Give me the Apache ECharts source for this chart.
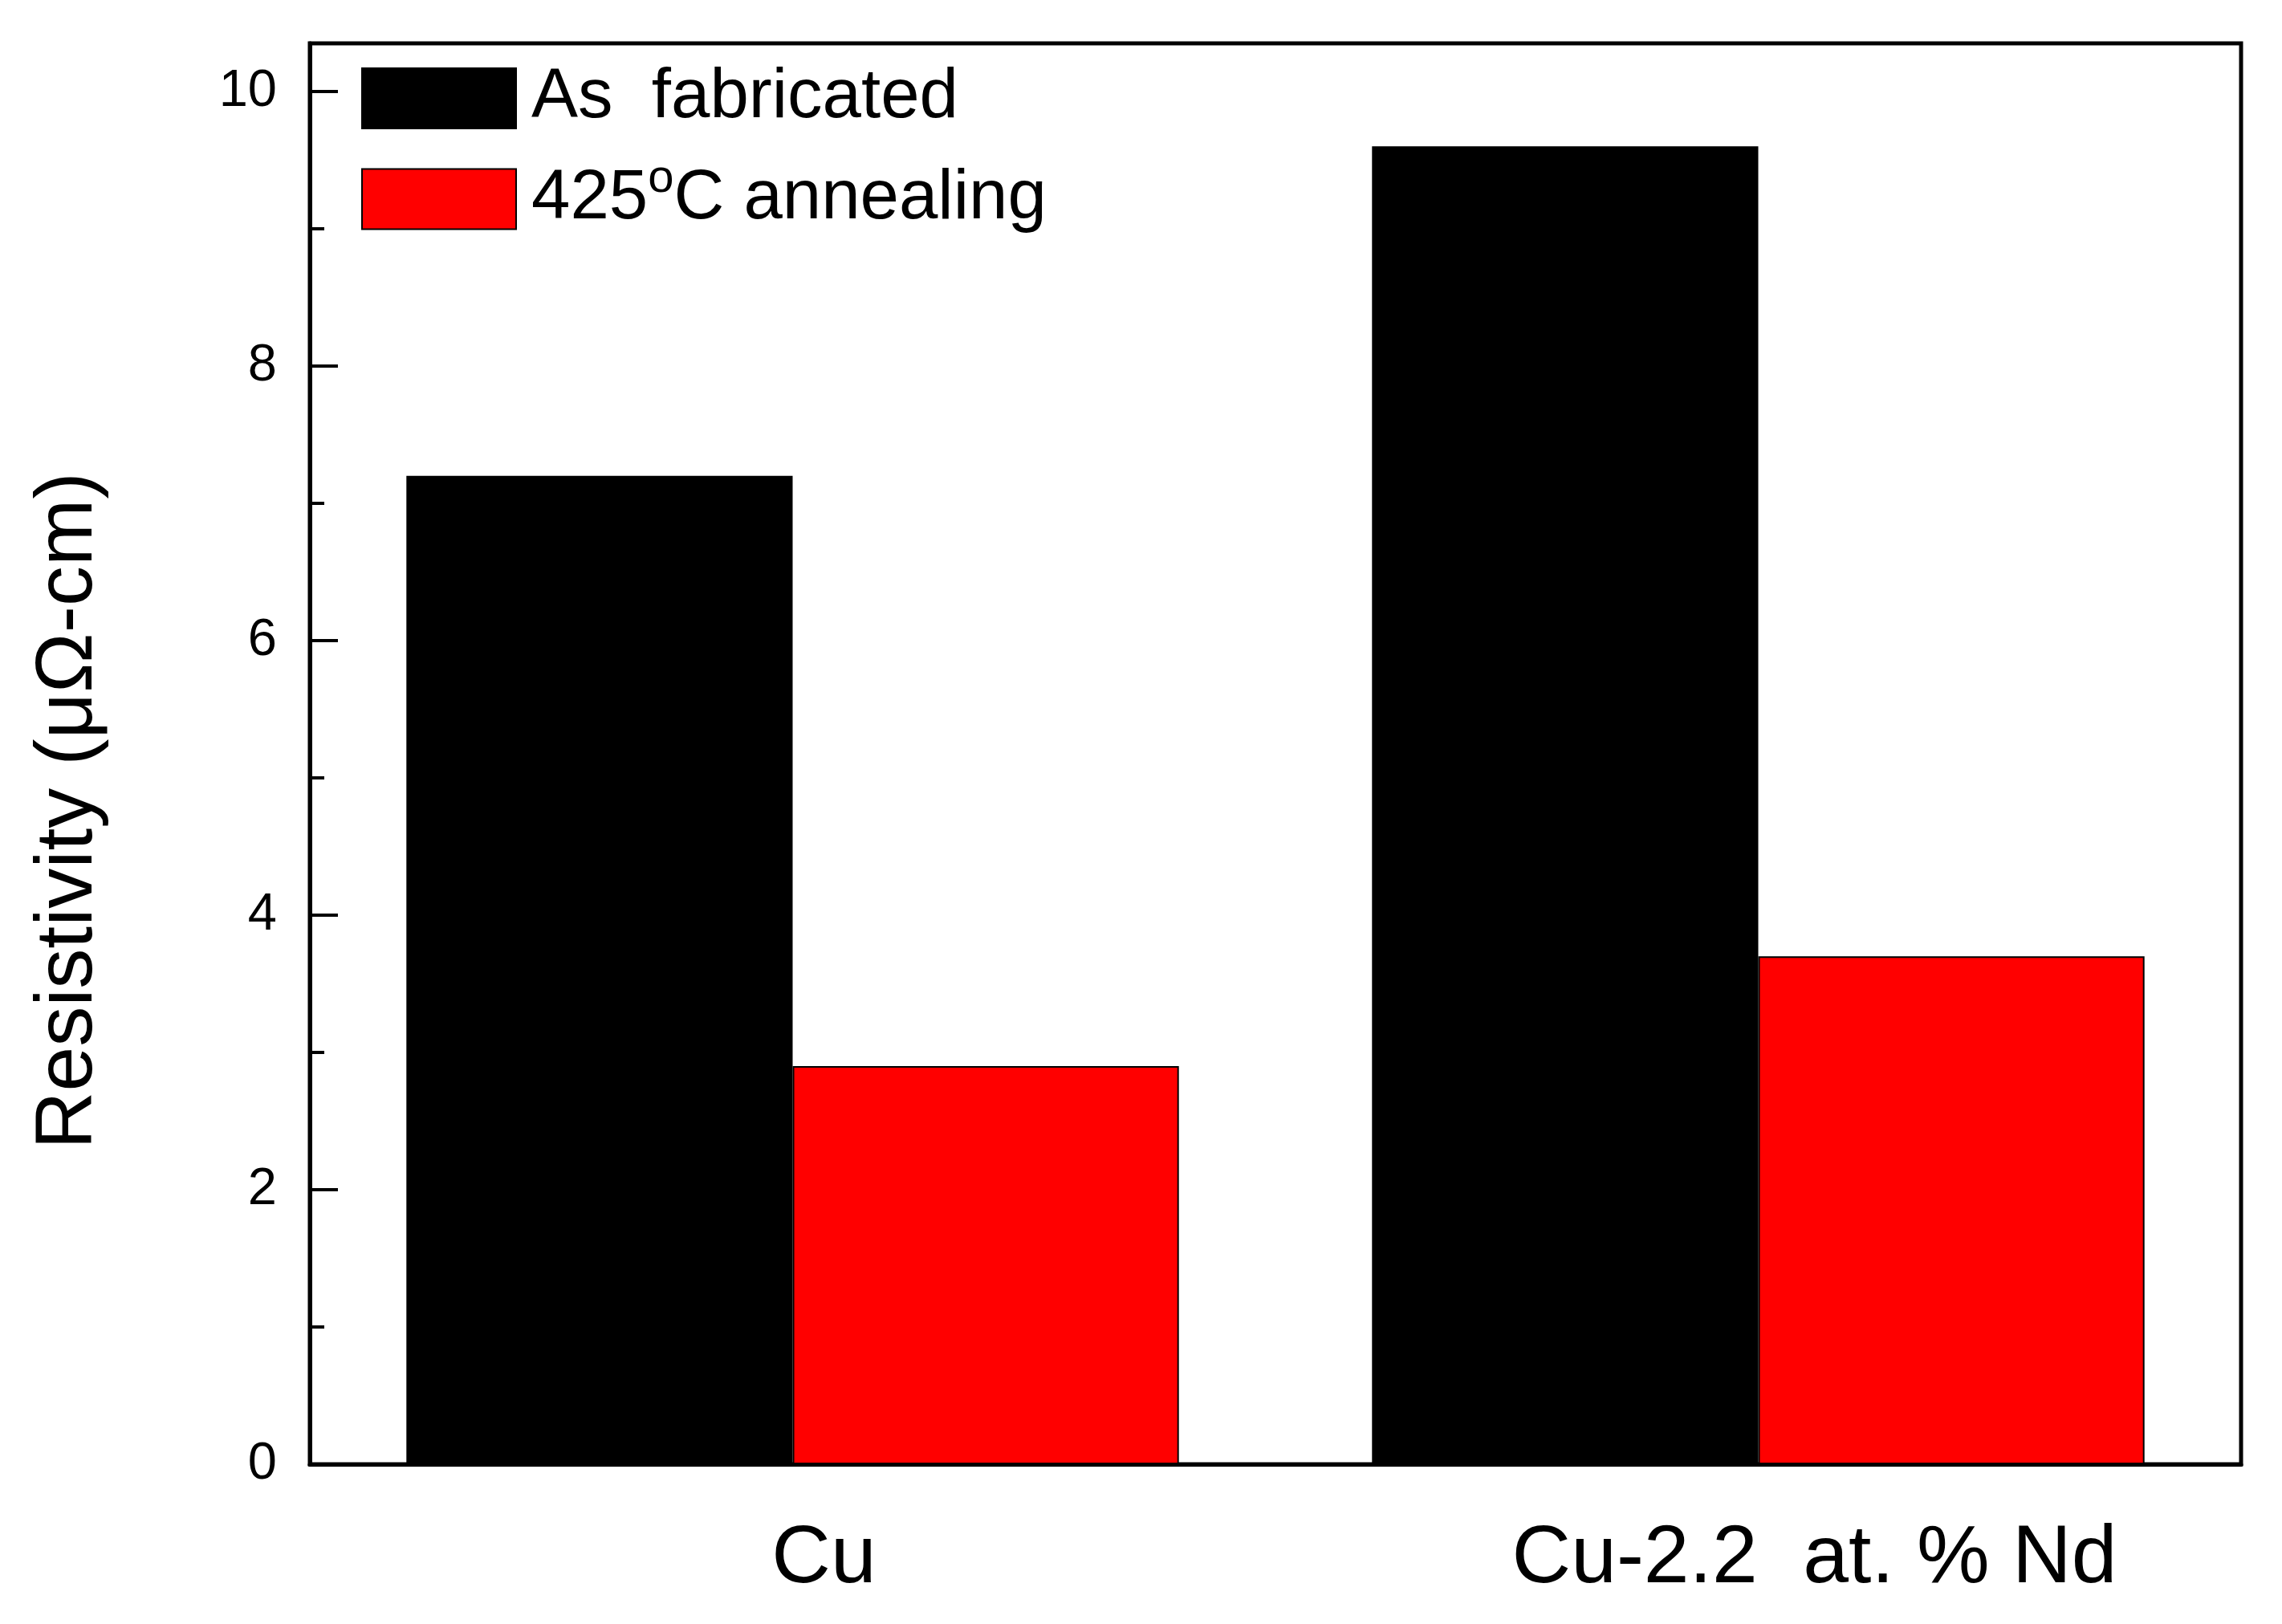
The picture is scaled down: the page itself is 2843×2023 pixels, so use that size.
<!DOCTYPE html>
<html>
<head>
<meta charset="utf-8">
<script src="https://cdn.jsdelivr.net/npm/echarts@6/dist/echarts.min.js"></script>
<style>
  html, body { margin: 0; padding: 0; background: #fff; }
  #chart { width: 2843px; height: 2023px; }
</style>
</head>
<body>
<div id="chart"></div>
<script>
// data
var categories = ['Cu', 'Cu-2.2  at. % Nd'];
var asFabricated = [7.2, 9.6];
var annealed = [2.9, 3.7];
var yTicks = [0, 2, 4, 6, 8, 10];

var font = '"Liberation Sans", Arial, sans-serif';
var myChart = echarts.init(document.getElementById('chart'));

var option = {
	backgroundColor: '#fff',
	animation: false,
	grid: {
		left: 386,
		right: 51,
		top: 54,
		bottom: 199,
		show: true,
		borderColor: '#000',
		borderWidth: 5
	},
	legend: {
		orient: 'vertical',
		left: 445,
		top: 74,
		itemWidth: 192,
		itemHeight: 75,
		itemGap: 28,
		icon: 'rect',
		data: ['As  fabricated', '425C annealing'],
		formatter: function(name) {
			if (name === '425C annealing') {
				return '425{sup|o}C annealing';
			}
			return name;
		},
		textStyle: {
			fontFamily: font,
			fontSize: 87,
			color: '#000',
			padding: [0, 0, 0, 14],
			rich: {
				sup: {
					fontFamily: font,
					fontSize: 58,
					verticalAlign: 'bottom',
					padding: [0, 0, 50, 0]
				}
			}
		}
	},
	xAxis: {
		type: 'category',
		data: categories,
		axisLine: { lineStyle: { color: '#000', width: 5 } },
		axisTick: { show: false },
		axisLabel: {
			margin: 68,
			fontFamily: font,
			fontSize: 102,
			color: '#000',
			formatter: function(v, i) {
				return i === 0 ? '{a|' + v + '}' : '{b|' + v + '}';
			},
			rich: {
				a: { fontFamily: font, fontSize: 102, color: '#000', padding: [0, 0, 0, 78] },
				b: { fontFamily: font, fontSize: 102, color: '#000', padding: [0, 0, 0, 140] }
			}
		}
	},
	yAxis: {
		type: 'value',
		min: 0,
		max: 10.35,
		interval: 2,
		name: 'Resistivity (\u03bc\u03a9-cm)',
		nameLocation: 'middle',
		nameGap: 250,
		nameTextStyle: {
			fontFamily: font,
			fontSize: 100,
			color: '#000',
			padding: [0, 142, 0, 0]
		},
		axisLine: { show: true, lineStyle: { color: '#000', width: 5 } },
		axisTick: { show: true, inside: true, length: 35, lineStyle: { color: '#000', width: 4 } },
		minorTick: { show: true, splitNumber: 2, length: 18, lineStyle: { color: '#000', width: 4 } },
		splitLine: { show: false },
		axisLabel: {
			margin: 41,
			fontFamily: font,
			fontSize: 65,
			color: '#000',
			formatter: function(v) {
				return yTicks.indexOf(v) >= 0 ? String(v) : '';
			}
		}
	},
	series: [
		{
			name: 'As  fabricated',
			type: 'bar',
			data: asFabricated,
			barCategoryGap: '20%',
			barGap: '0%',
			itemStyle: { color: '#000', borderColor: '#000', borderWidth: 2 }
		},
		{
			name: '425C annealing',
			type: 'bar',
			data: annealed,
			barCategoryGap: '20%',
			barGap: '0%',
			itemStyle: { color: '#ff0000', borderColor: '#000', borderWidth: 2 }
		}
	]
};
myChart.setOption(option);
</script>
</body>
</html>
